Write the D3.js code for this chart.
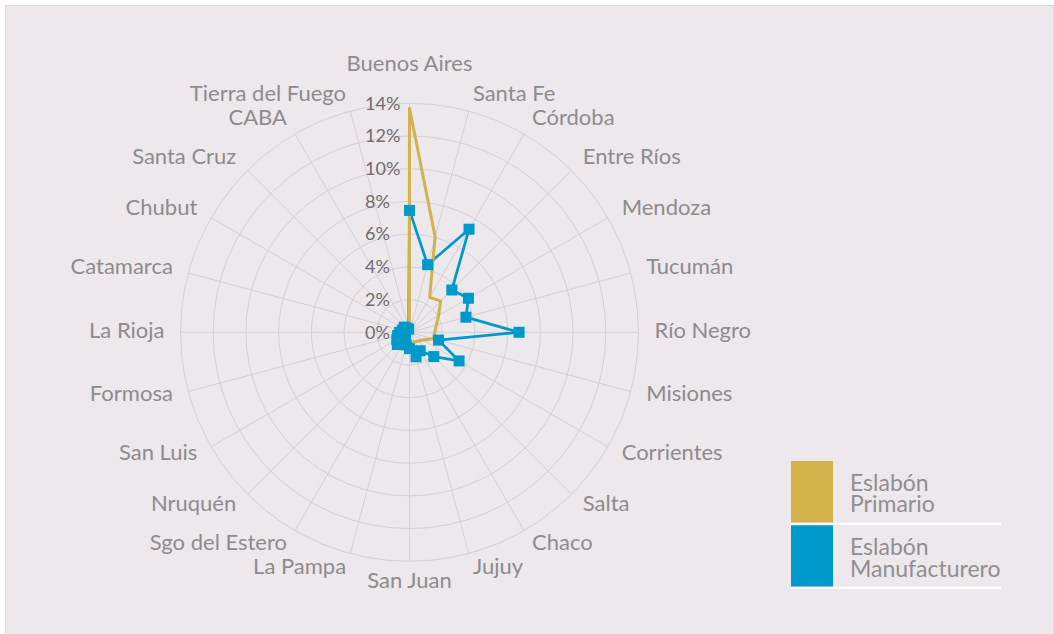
<!DOCTYPE html>
<html>
<head>
<meta charset="utf-8">
<script src="https://cdn.jsdelivr.net/npm/d3@7"></script>
<style>
  html, body { margin: 0; padding: 0; background: #ffffff; }
  svg { display: block; }
</style>
</head>
<body>
<svg id="chart" width="1054" height="634"></svg>
<script>
const categories = ["Buenos Aires","Santa Fe","Córdoba","Entre Ríos","Mendoza","Tucumán","Río Negro","Misiones","Corrientes","Salta","Chaco","Jujuy","San Juan","La Pampa","Sgo del Estero","Nruquén","San Luis","Formosa","La Rioja","Catamarca","Chubut","Santa Cruz","CABA","Tierra del Fuego"];
const primario = [13.7, 6.05, 2.47, 2.7, 2.05, 1.7, 1.55, 1.5, 0.95, 0.75, 0.66, 0.63, 0.7, 0.3, 0.1, 0.05, 0.05, 0.05, 0.05, 0.05, 0.05, 0.05, 0.05, 0.05];
const manufacturero = [7.45, 4.28, 7.28, 3.66, 4.16, 3.57, 6.7, 1.84, 3.5, 2.1, 1.3, 1.55, 1.0, 0.8, 0.5, 1.05, 0.9, 0.75, 0.6, 0.45, 0.4, 0.45, 0.3, 0.2];
const tickValues = [0, 2, 4, 6, 8, 10, 12, 14];
const tickLabels = ["0%", "2%", "4%", "6%", "8%", "10%", "12%", "14%"];
const seriesNames = [["Eslabón", "Primario"], ["Eslabón", "Manufacturero"]];
const seriesColors = ["#d2b24a", "#0099cc"];

const svg = d3.select("#chart");
const W = 1054, H = 634;
const cx = 409.5, cy = 332.3;
const FONT = "Lato, 'Noto Sans', sans-serif";

svg.append("rect").attr("x", 5.5).attr("y", 5.5).attr("width", W - 6).attr("height", H - 5)
  .attr("fill", "#ece8ec").attr("stroke", "#dcdcdc").attr("stroke-width", 1);

const r = d3.scaleLinear().domain([0, 14]).range([0, 229]);
const n = categories.length;
const ang = d3.scaleLinear().domain([0, n]).range([0, 2 * Math.PI]);

const g = svg.append("g").attr("transform", `translate(${cx},${cy})`);

// grid circles
g.selectAll("circle.grid").data(tickValues.filter(v => v > 0)).join("circle")
  .attr("class", "grid").attr("r", d => r(d))
  .attr("fill", "none").attr("stroke", "#d3d1d3").attr("stroke-width", 1);

// spokes
g.selectAll("line.spoke").data(categories).join("line")
  .attr("class", "spoke")
  .attr("x1", 0).attr("y1", 0)
  .attr("x2", (d, i) => r(14) * Math.sin(ang(i)))
  .attr("y2", (d, i) => -r(14) * Math.cos(ang(i)))
  .attr("stroke", "#d3d1d3").attr("stroke-width", 1);

// tick labels
g.selectAll("text.tick").data(tickValues).join("text")
  .attr("class", "tick")
  .attr("x", -44.5)
  .attr("y", d => -r(d))
  .attr("dy", "0.35em")
  .attr("text-anchor", "start")
  .attr("font-family", FONT).attr("font-size", 18)
  .attr("fill", "#6d6d6d")
  .text((d, i) => tickLabels[i]);

// category labels
const LR = 245;
g.selectAll("text.cat").data(categories).join("text")
  .attr("class", "cat")
  .attr("x", (d, i) => LR * Math.sin(ang(i)))
  .attr("y", (d, i) => {
    if (i === 0) return -269;
    if (i === n / 2) return 248;
    return -LR * Math.cos(ang(i)) - 2.5;
  })
  .attr("dy", "0.35em")
  .attr("text-anchor", (d, i) => {
    const s = Math.sin(ang(i));
    return s > 0.01 ? "start" : (s < -0.01 ? "end" : "middle");
  })
  .attr("font-family", FONT).attr("font-size", 22)
  .attr("fill", "#8c8c8c")
  .text(d => d);

const line = d3.lineRadial()
  .angle((d, i) => ang(i))
  .radius(d => r(d))
  .curve(d3.curveLinearClosed);

// manufacturero line (under), primario line, then markers on top
g.append("path").datum(manufacturero)
  .attr("d", line).attr("fill", "none")
  .attr("stroke", seriesColors[1]).attr("stroke-width", 2.75)
  .attr("stroke-linejoin", "round");

g.append("path").datum(primario)
  .attr("d", line).attr("fill", "none")
  .attr("stroke", seriesColors[0]).attr("stroke-width", 3)
  .attr("stroke-linejoin", "round");

const ms = 11;
g.selectAll("rect.mk").data(manufacturero).join("rect")
  .attr("class", "mk")
  .attr("x", (d, i) => r(d) * Math.sin(ang(i)) - ms / 2)
  .attr("y", (d, i) => -r(d) * Math.cos(ang(i)) - ms / 2)
  .attr("width", ms).attr("height", ms)
  .attr("fill", seriesColors[1]);

// legend
const leg = svg.append("g");
const legY = [461, 525.3];
const legH = [61.7, 61.4];
seriesNames.forEach((nm, k) => {
  leg.append("rect").attr("x", 791).attr("y", legY[k]).attr("width", 42).attr("height", legH[k])
    .attr("fill", seriesColors[k]);
  leg.append("line").attr("x1", 791).attr("x2", 1001)
    .attr("y1", legY[k] + legH[k] + 1.2).attr("y2", legY[k] + legH[k] + 1.2)
    .attr("stroke", "#ffffff").attr("stroke-width", 2.4);
  const t = leg.append("text").attr("x", 850).attr("y", legY[k] + 29.7)
    .attr("font-family", FONT).attr("font-size", 23)
    .attr("fill", "#8f8f8f");
  nm.forEach((s, j) => {
    t.append("tspan").attr("x", 850).attr("dy", j === 0 ? 0 : 21.5).text(s);
  });
});
</script>
</body>
</html>
